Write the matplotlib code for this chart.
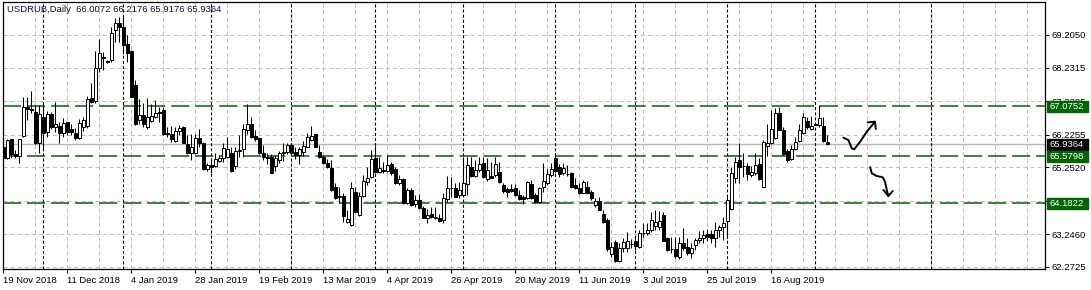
import matplotlib
matplotlib.use("Agg")
import matplotlib.pyplot as plt
from matplotlib.patches import Rectangle
import matplotlib.transforms as mtransforms

plt.rcParams['font.family'] = ['Liberation Sans', 'DejaVu Sans']
plt.rcParams['lines.scale_dashes'] = False

# ---------------- data ----------------
opens = [65.87, 65.52, 66.09, 65.65, 65.60, 66.20, 67.06, 66.98, 66.89, 65.99,
         66.74, 66.32, 66.84, 66.45, 66.49, 66.27, 66.60, 66.39, 66.29, 66.14,
         66.46, 66.50, 67.31, 67.24, 68.21, 68.56, 68.41, 68.46, 69.35, 69.55,
         69.43, 68.93, 68.73, 67.71, 66.66, 66.81, 66.46, 66.63, 66.76, 66.91,
         66.96, 66.28, 66.26, 66.04, 66.34, 66.46, 65.94, 65.69, 65.69, 66.14,
         65.99, 65.19, 65.32, 65.29, 65.45, 65.52, 65.57, 65.67, 65.30, 65.73,
         65.79, 66.38, 66.54, 66.19, 66.13, 65.67, 65.56, 65.57, 65.29, 65.47,
         65.67, 65.72, 65.92, 65.70, 65.61, 65.72, 65.87, 66.07, 66.24, 65.72,
         65.57, 65.39, 65.22, 64.67, 64.36, 64.39, 63.63, 63.53, 64.52, 63.82,
         64.39, 64.82, 64.95, 65.54, 65.12, 65.15, 65.15, 65.35, 65.20, 64.77,
         64.89, 64.17, 64.57, 64.15, 64.27, 64.05, 63.75, 63.85, 63.75, 63.75,
         63.67, 64.29, 64.63, 64.64, 64.42, 64.42, 64.75, 65.25, 65.00, 65.17,
         65.37, 64.89, 65.00, 65.02, 65.10, 64.72, 64.59, 64.59, 64.62, 64.42,
         64.35, 64.32, 64.75, 64.42, 64.22, 64.65, 64.77, 65.02, 65.52, 65.25,
         65.07, 65.05, 65.09, 64.72, 64.62, 64.49, 64.67, 64.50, 64.12, 64.24,
         63.85, 63.68, 62.65, 63.03, 62.45, 62.83, 62.83, 62.95, 63.05, 62.86,
         63.28, 63.30, 63.38, 63.50, 63.48, 63.82, 63.13, 62.80, 62.80, 62.58,
         62.98, 62.86, 62.70, 62.93, 63.08, 63.15, 63.26, 63.26, 63.13, 63.38,
         63.46, 63.66, 64.02, 64.92, 65.47, 65.29, 65.29, 65.02, 65.07, 65.35,
         64.67, 65.90, 65.99, 66.12, 66.86, 66.36, 65.74, 65.50, 65.79, 66.04,
         66.27, 66.63, 66.41, 66.51, 66.51, 66.48, 66.0072]
highs = [66.09, 66.09, 66.09, 65.77, 66.09, 67.34, 67.36, 67.53, 67.11, 67.11,
         67.11, 66.94, 66.91, 67.21, 66.61, 66.71, 66.62, 66.56, 66.42, 66.68,
         66.74, 67.38, 67.76, 68.73, 69.10, 68.71, 68.46, 69.43, 69.70, 69.75,
         69.80, 69.20, 68.75, 67.86, 67.28, 67.16, 67.31, 67.13, 67.26, 67.06,
         67.06, 66.46, 66.48, 66.46, 66.51, 66.48, 66.22, 66.26, 66.26, 66.41,
         66.02, 65.37, 65.52, 65.69, 65.62, 65.97, 66.17, 65.87, 65.87, 66.21,
         66.56, 67.13, 66.74, 66.36, 66.17, 65.92, 65.67, 65.65, 65.62, 65.75,
         65.99, 65.99, 65.94, 65.85, 65.87, 66.05, 66.29, 66.48, 66.26, 65.92,
         65.62, 65.49, 65.47, 64.79, 64.67, 64.49, 63.97, 64.82, 64.67, 64.52,
         65.02, 65.27, 65.77, 65.89, 65.57, 65.42, 65.62, 65.42, 65.27, 65.02,
         64.94, 64.62, 64.62, 64.42, 64.45, 64.09, 64.02, 64.07, 64.07, 63.87,
         64.47, 64.99, 64.97, 64.77, 64.82, 65.57, 65.57, 65.57, 65.47, 65.57,
         65.57, 65.52, 65.42, 65.57, 65.42, 64.77, 64.67, 64.75, 64.75, 64.57,
         64.42, 64.85, 64.87, 64.47, 64.67, 65.37, 65.19, 65.37, 65.69, 65.35,
         65.39, 65.32, 65.12, 64.92, 64.77, 64.87, 64.85, 64.57, 64.32, 64.37,
         63.97, 63.73, 63.03, 63.08, 62.98, 63.13, 63.33, 63.10, 63.18, 63.38,
         63.58, 63.58, 63.92, 63.97, 63.95, 63.92, 63.18, 63.18, 63.18, 63.18,
         63.43, 63.13, 62.98, 63.13, 63.35, 63.38, 63.40, 63.38, 63.63, 63.53,
         63.78, 64.42, 65.27, 65.57, 65.97, 65.67, 65.37, 65.29, 65.67, 65.52,
         66.07, 66.56, 66.96, 67.03, 67.06, 66.46, 65.79, 65.92, 66.17, 66.56,
         66.86, 66.76, 66.78, 66.56, 67.11, 66.76, 66.2176]
lows = [65.47, 65.49, 65.52, 65.52, 65.39, 66.17, 66.66, 66.88, 65.94, 65.67,
        65.79, 66.17, 66.39, 66.30, 65.97, 66.17, 66.22, 66.22, 66.07, 66.09,
        66.35, 66.44, 67.18, 67.18, 68.11, 68.16, 68.36, 68.41, 69.00, 69.00,
        68.65, 68.41, 67.34, 66.51, 66.56, 66.46, 66.41, 66.61, 66.71, 66.61,
        66.22, 66.17, 66.02, 66.02, 66.21, 65.97, 65.64, 65.47, 65.64, 65.87,
        65.17, 65.15, 65.09, 65.25, 65.42, 65.42, 65.52, 65.12, 65.19, 65.57,
        65.57, 66.25, 66.14, 66.05, 65.65, 65.47, 65.35, 65.07, 65.15, 65.37,
        65.45, 65.65, 65.65, 65.49, 65.35, 65.59, 65.85, 66.05, 65.85, 65.52,
        65.35, 65.22, 64.55, 64.29, 64.17, 63.63, 63.58, 63.50, 63.89, 63.79,
        64.37, 64.72, 64.92, 65.09, 65.07, 65.07, 65.12, 65.02, 64.75, 64.72,
        64.15, 64.15, 64.10, 64.07, 64.02, 63.73, 63.60, 63.75, 63.70, 63.63,
        63.60, 64.22, 64.35, 64.35, 64.32, 64.39, 64.42, 64.97, 64.97, 65.12,
        64.92, 64.85, 64.92, 64.97, 64.79, 64.49, 64.37, 64.52, 64.39, 64.27,
        64.15, 64.29, 64.29, 64.19, 64.19, 64.52, 64.72, 64.97, 65.07, 64.97,
        65.02, 64.99, 64.62, 64.59, 64.44, 64.47, 64.45, 64.27, 64.07, 63.97,
        63.60, 62.76, 62.58, 62.42, 62.43, 62.73, 62.73, 62.85, 62.78, 62.83,
        63.18, 63.23, 63.33, 63.38, 63.38, 63.05, 62.76, 62.68, 62.53, 62.50,
        62.78, 62.63, 62.53, 62.78, 62.98, 62.98, 63.05, 62.98, 62.88, 63.18,
        63.08, 63.13, 63.97, 64.77, 64.79, 64.97, 64.87, 64.97, 65.02, 64.87,
        64.67, 65.59, 65.94, 66.09, 66.36, 65.62, 65.42, 65.47, 65.77, 66.02,
        66.24, 66.41, 66.36, 66.51, 66.46, 66.02, 65.9176]
closes = [65.52, 66.07, 65.64, 65.60, 66.09, 67.06, 66.98, 66.97, 65.99, 66.83,
          66.27, 66.84, 66.45, 66.56, 66.29, 66.59, 66.32, 66.32, 66.12, 66.58,
          66.66, 67.28, 67.21, 68.21, 68.68, 68.51, 68.41, 69.27, 69.55, 69.43,
          68.90, 68.68, 67.36, 66.56, 66.81, 66.56, 66.76, 66.78, 66.86, 66.86,
          66.24, 66.24, 66.09, 66.34, 66.44, 65.99, 65.69, 65.87, 66.14, 65.99,
          65.19, 65.32, 65.25, 65.49, 65.52, 65.82, 65.79, 65.14, 65.74, 65.77,
          66.39, 66.54, 66.17, 66.11, 65.67, 65.55, 65.53, 65.09, 65.52, 65.67,
          65.71, 65.92, 65.69, 65.61, 65.79, 65.89, 66.15, 66.19, 65.87, 65.55,
          65.39, 65.25, 64.57, 64.34, 64.40, 63.79, 63.70, 64.62, 63.92, 64.39,
          64.84, 64.92, 65.49, 65.12, 65.23, 65.16, 65.32, 65.07, 64.79, 64.90,
          64.17, 64.57, 64.12, 64.27, 64.05, 63.75, 63.82, 63.77, 63.76, 63.65,
          64.32, 64.62, 64.64, 64.37, 64.57, 64.79, 65.32, 65.00, 65.17, 65.34,
          64.97, 65.17, 64.94, 65.34, 64.82, 64.55, 64.52, 64.55, 64.42, 64.29,
          64.31, 64.82, 64.32, 64.22, 64.62, 64.85, 65.05, 65.19, 65.15, 65.04,
          65.22, 65.06, 64.67, 64.62, 64.49, 64.82, 64.47, 64.32, 64.24, 63.99,
          63.63, 62.80, 62.88, 62.45, 62.83, 63.03, 63.05, 62.96, 62.91, 63.28,
          63.30, 63.38, 63.67, 63.63, 63.65, 63.06, 62.78, 62.80, 62.60, 62.98,
          62.83, 62.68, 62.83, 63.08, 63.13, 63.23, 63.16, 63.13, 63.38, 63.46,
          63.60, 64.27, 65.07, 65.42, 65.27, 65.29, 65.04, 65.10, 65.32, 64.89,
          66.00, 65.99, 66.41, 66.86, 66.38, 65.65, 65.47, 65.79, 66.02, 66.36,
          66.74, 66.46, 66.49, 66.54, 66.71, 66.05, 65.9364]

date_labels = ["19 Nov 2018", "11 Dec 2018", "4 Jan 2019", "28 Jan 2019",
               "19 Feb 2019", "13 Mar 2019", "4 Apr 2019", "26 Apr 2019",
               "20 May 2019", "11 Jun 2019", "3 Jul 2019", "25 Jul 2019",
               "16 Aug 2019"]
label_bars = [0, 16, 32, 48, 64, 80, 96, 112, 128, 144, 160, 176, 192]
month_separators = [10, 30, 52, 72, 93, 115, 138, 158, 181, 203, 232]

price_ticks = [62.2725, 63.2460, 64.2490, 65.2520, 66.2255, 67.2285, 68.2315, 69.2050]
levels = [67.0752, 65.5798, 64.1822]
last_price = 65.9364
title = "USDRUB,Daily  66.0072 66.2176 65.9176 65.9364"

arrow_up_path = [(210.0, 66.136), (211.25, 66.067), (212.1, 65.819), (212.7, 65.789),
                 (214.2, 66.017), (215.85, 66.315), (217.9, 66.614)]
arrow_up_head = [(216.1, 66.596), (217.9, 66.614), (218.1, 66.396)]
arrow_dn_path = [(216.7, 65.252), (217.1, 65.072), (218.3, 64.992), (219.85, 64.953),
                 (220.4, 64.821), (220.85, 64.573), (221.25, 64.394)]
arrow_dn_head = [(220.0, 64.573), (221.25, 64.394), (222.35, 64.543)]

# ---------------- figure ----------------
W, H = 1091, 290
fig = plt.figure(figsize=(W / 100, H / 100), dpi=100)
ax = fig.add_axes([2.5 / W, 21 / H, 1042.5 / W, 267 / H])
ax.set_xlim(-0.2, 260.4)
ax.set_ylim(62.2127, 70.191)

grid_col = '#c0c0c0'
green = '#006400'
fs = 6.8

# grid
for gx in range(0, 257, 8):
    ax.axvline(gx, color=grid_col, lw=0.72, ls=(0, (2.9, 2.2)), zorder=0.5)
for gy in price_ticks:
    ax.axhline(gy, color=grid_col, lw=0.72, ls=(0, (2.9, 2.2)), zorder=0.5)

# month separators
for sx in month_separators:
    ax.axvline(sx - 0.1, color='black', lw=0.8, ls=(0, (2.2, 1.5)), zorder=0.8)

# current price line
ax.axhline(last_price, color='#b8b8b8', lw=1.0, zorder=0.7)

# levels
for lv in levels:
    ax.axhline(lv, color=green, lw=1.1, ls=(0, (13, 4.3)), zorder=0.9)

# candles
n = len(closes)
xs = list(range(n))
ax.vlines(xs, lows, highs, color='black', lw=0.75, zorder=2)
for i in range(n):
    o, c = opens[i], closes[i]
    bottom = min(o, c)
    h = abs(c - o)
    bull = c >= o
    ax.add_patch(Rectangle((i - 0.3, bottom), 0.6, max(h, 0.012),
                           facecolor='white' if bull else 'black',
                           edgecolor='black', lw=0.7, zorder=3))

# hand-drawn arrows
for path in (arrow_up_path, arrow_up_head, arrow_dn_path, arrow_dn_head):
    ax.plot([p[0] for p in path], [p[1] for p in path], color='black', lw=1.4,
            solid_capstyle='round', solid_joinstyle='round', zorder=4)

# axes styling
for sp in ax.spines.values():
    sp.set_color('black')
    sp.set_linewidth(0.9)

ax.yaxis.tick_right()
ax.set_yticks(price_ticks)
ax.set_yticklabels([f"{v:.4f}" for v in price_ticks], fontsize=fs, color='black')
ax.tick_params(axis='y', direction='out', length=3, width=0.8, pad=2)

ax.set_xticks(label_bars)
ax.set_xticklabels(date_labels, fontsize=fs, color='black', ha='left')
ax.tick_params(axis='x', direction='out', length=3, width=0.8, pad=2)
for lbl in ax.get_xticklabels():
    lbl.set_horizontalalignment('left')

# price boxes on right axis
trans = mtransforms.blended_transform_factory(ax.transAxes, ax.transData)
box_w = 41 / 1042.5
half_h = 5.5 * 0.02988
for val, col in [(levels[0], green), (last_price, 'black'), (levels[1], green), (levels[2], green)]:
    ax.add_patch(Rectangle((1.0 + 1.5 / 1042.5, val - half_h), box_w, 2 * half_h,
                           transform=trans, facecolor=col, edgecolor=col,
                           clip_on=False, zorder=10))
    ax.text(1.0 + 5 / 1042.5, val, f"{val:.4f}", transform=trans, color='white',
            fontsize=fs, va='center', ha='left', zorder=11, clip_on=False)

# title
ax.text(4.5 / 1042.5, (267 - 7) / 267, title, transform=ax.transAxes,
        fontsize=fs, color='#101030', va='center', ha='left', zorder=12)

fig.savefig("out.png", dpi=100)
